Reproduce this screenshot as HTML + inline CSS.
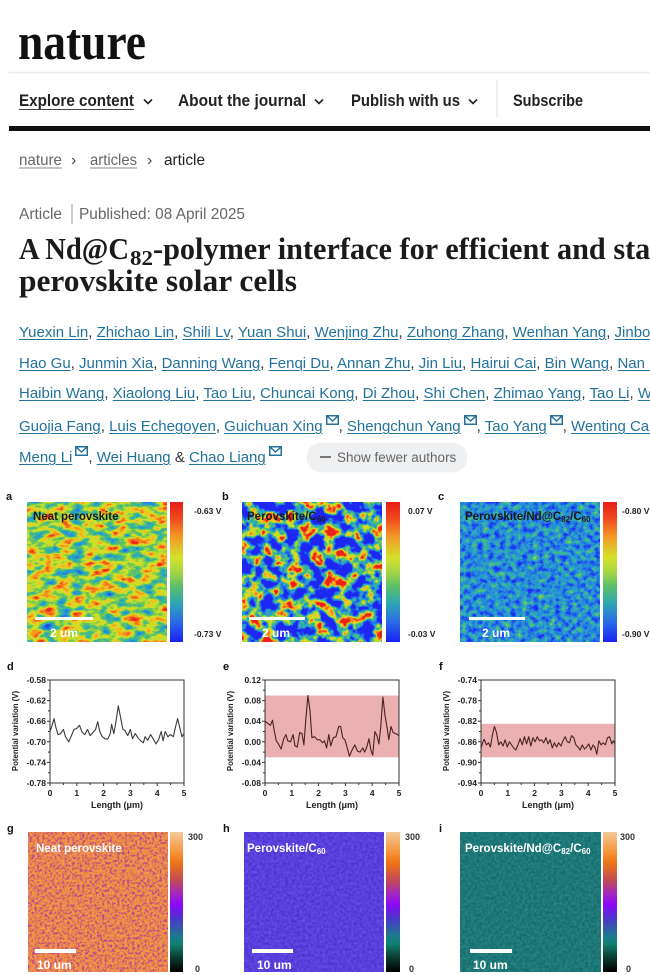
<!DOCTYPE html>
<html><head><meta charset="utf-8">
<style>
html,body{margin:0;padding:0;background:#fff;}
body{width:650px;height:975px;overflow:hidden;position:relative;font-family:"Liberation Sans",Arial,sans-serif;}
.au{position:absolute;left:19px;right:0;overflow:hidden;font-size:15px;line-height:20px;height:22px;color:#333;white-space:nowrap;}
.au span{color:#23729a;text-decoration:underline;text-underline-offset:2px;text-decoration-thickness:1px;}
.env{vertical-align:6px;margin-left:3px;}
.btn{position:absolute;left:307px;top:443px;width:160px;height:29px;border-radius:15px;background:#eef0f2;box-shadow:0 0 1px #d8dadc;}
.btn .dash{position:absolute;left:13px;top:13px;width:11px;height:2px;background:#777;}
.btn .t{position:absolute;left:30px;top:6px;font-size:13.5px;line-height:17px;color:#666;white-space:nowrap;}
</style></head>
<body>
<svg width="650" height="975" viewBox="0 0 650 975" style="position:absolute;left:0;top:0" font-family="Liberation Sans, Arial, sans-serif">
<defs>
<linearGradient id="jet" x1="0" y1="0" x2="0" y2="1">
<stop offset="0" stop-color="#e81c18"/><stop offset="0.12" stop-color="#f04a1e"/><stop offset="0.25" stop-color="#f29a26"/><stop offset="0.4" stop-color="#d4e22c"/><stop offset="0.5" stop-color="#a6d644"/><stop offset="0.6" stop-color="#5cc066"/><stop offset="0.72" stop-color="#2ea8b0"/><stop offset="0.85" stop-color="#2a6ee6"/><stop offset="1" stop-color="#1a22f2"/>
</linearGradient>
<linearGradient id="pl" x1="0" y1="0" x2="0" y2="1">
<stop offset="0" stop-color="#f6c898"/><stop offset="0.15" stop-color="#f59236"/><stop offset="0.22" stop-color="#ee7416"/><stop offset="0.35" stop-color="#c0485a"/><stop offset="0.45" stop-color="#a024c8"/><stop offset="0.52" stop-color="#8a08f6"/><stop offset="0.62" stop-color="#4a38c8"/><stop offset="0.74" stop-color="#1e7890"/><stop offset="0.8" stop-color="#108070"/><stop offset="0.9" stop-color="#0c3a2e"/><stop offset="1" stop-color="#000"/>
</linearGradient>
<filter id="fa" filterUnits="userSpaceOnUse" x="27" y="502" width="140" height="140" color-interpolation-filters="sRGB">
<feTurbulence type="fractalNoise" baseFrequency="0.07 0.13" numOctaves="3" seed="2"/>
<feColorMatrix type="matrix" values="1.3 0 0 0 -0.07  1.3 0 0 0 -0.07  1.3 0 0 0 -0.07  0 0 0 0 1"/>
<feComponentTransfer>
<feFuncR type="table" tableValues="0.12 0.12 0.16 0.19 0.44 0.80 0.95 0.95 0.92"/>
<feFuncG type="table" tableValues="0.15 0.38 0.58 0.70 0.78 0.90 0.76 0.45 0.14"/>
<feFuncB type="table" tableValues="0.95 0.92 0.85 0.66 0.32 0.16 0.12 0.12 0.10"/>
</feComponentTransfer>
</filter>
<filter id="fb" filterUnits="userSpaceOnUse" x="242" y="502" width="140" height="140" color-interpolation-filters="sRGB">
<feTurbulence type="fractalNoise" baseFrequency="0.08" numOctaves="3" seed="7"/>
<feColorMatrix type="matrix" values="3.0 0 0 0 -1.18  3.0 0 0 0 -1.18  3.0 0 0 0 -1.18  0 0 0 0 1"/>
<feComponentTransfer>
<feFuncR type="table" tableValues="0.12 0.12 0.16 0.19 0.44 0.80 0.95 0.95 0.92"/>
<feFuncG type="table" tableValues="0.15 0.38 0.58 0.70 0.78 0.90 0.76 0.45 0.14"/>
<feFuncB type="table" tableValues="0.95 0.92 0.85 0.66 0.32 0.16 0.12 0.12 0.10"/>
</feComponentTransfer>
</filter>
<filter id="fc" filterUnits="userSpaceOnUse" x="460" y="502" width="140" height="140" color-interpolation-filters="sRGB">
<feTurbulence type="fractalNoise" baseFrequency="0.18" numOctaves="4" seed="11"/>
<feColorMatrix type="matrix" values="0.8 0 0 0 -0.16  0.8 0 0 0 -0.16  0.8 0 0 0 -0.16  0 0 0 0 1"/>
<feComponentTransfer>
<feFuncR type="table" tableValues="0.12 0.12 0.16 0.19 0.44 0.80 0.95 0.95 0.92"/>
<feFuncG type="table" tableValues="0.15 0.38 0.58 0.70 0.78 0.90 0.76 0.45 0.14"/>
<feFuncB type="table" tableValues="0.95 0.92 0.85 0.66 0.32 0.16 0.12 0.12 0.10"/>
</feComponentTransfer>
</filter>
<filter id="fg" filterUnits="userSpaceOnUse" x="28" y="832" width="140" height="140" color-interpolation-filters="sRGB">
<feTurbulence type="fractalNoise" baseFrequency="0.4" numOctaves="2" seed="4"/>
<feColorMatrix type="matrix" values="2.3 0 0 0 -0.47  2.3 0 0 0 -0.47  2.3 0 0 0 -0.47  0 0 0 0 1"/>
<feComponentTransfer>
<feFuncR type="table" tableValues="0.62 0.80 0.92 0.95"/>
<feFuncG type="table" tableValues="0.25 0.36 0.52 0.60"/>
<feFuncB type="table" tableValues="0.66 0.46 0.30 0.28"/>
</feComponentTransfer>
</filter>
<filter id="fh" filterUnits="userSpaceOnUse" x="244" y="832" width="140" height="140" color-interpolation-filters="sRGB">
<feTurbulence type="fractalNoise" baseFrequency="0.35" numOctaves="2" seed="5"/>
<feColorMatrix type="matrix" values="2 0 0 0 -0.5  2 0 0 0 -0.5  2 0 0 0 -0.5  0 0 0 0 1"/>
<feComponentTransfer>
<feFuncR type="table" tableValues="0.30 0.40"/>
<feFuncG type="table" tableValues="0.20 0.30"/>
<feFuncB type="table" tableValues="0.82 0.90"/>
</feComponentTransfer>
</filter>
<filter id="fi" filterUnits="userSpaceOnUse" x="460" y="832" width="141" height="140" color-interpolation-filters="sRGB">
<feTurbulence type="fractalNoise" baseFrequency="0.35" numOctaves="2" seed="9"/>
<feColorMatrix type="matrix" values="2 0 0 0 -0.5  2 0 0 0 -0.5  2 0 0 0 -0.5  0 0 0 0 1"/>
<feComponentTransfer>
<feFuncR type="table" tableValues="0.08 0.16"/>
<feFuncG type="table" tableValues="0.42 0.52"/>
<feFuncB type="table" tableValues="0.42 0.52"/>
</feComponentTransfer>
</filter>
</defs>

<!-- Header -->
<text x="18" y="59" font-family="Liberation Serif, serif" font-weight="bold" font-size="52" textLength="128" lengthAdjust="spacingAndGlyphs" fill="#111">nature</text>
<line x1="9" y1="72.5" x2="650" y2="72.5" stroke="#ececec" stroke-width="1.5"/>
<g font-size="17" font-weight="bold" fill="#222">
<text x="19" y="106" textLength="115" lengthAdjust="spacingAndGlyphs">Explore content</text>
<text x="178" y="106" textLength="128" lengthAdjust="spacingAndGlyphs">About the journal</text>
<text x="351" y="106" textLength="109" lengthAdjust="spacingAndGlyphs">Publish with us</text>
<text x="513" y="106" textLength="70" lengthAdjust="spacingAndGlyphs">Subscribe</text>
</g>
<line x1="19" y1="109.5" x2="134" y2="109.5" stroke="#444" stroke-width="1"/>
<g fill="none" stroke="#222" stroke-width="1.6">
<polyline points="144,99.5 148,103.5 152,99.5"/>
<polyline points="315,99.5 319,103.5 323,99.5"/>
<polyline points="469,99.5 473,103.5 477,99.5"/>
</g>
<line x1="497" y1="80" x2="497" y2="117" stroke="#e2e2e2" stroke-width="1.2"/>
<rect x="9" y="126" width="641" height="5" fill="#111"/>

<!-- Breadcrumb -->
<g font-size="16">
<text x="19" y="165" fill="#666" textLength="43" lengthAdjust="spacingAndGlyphs">nature</text>
<text x="71" y="165" fill="#444">›</text>
<text x="90" y="165" fill="#666" textLength="47" lengthAdjust="spacingAndGlyphs">articles</text>
<text x="147" y="165" fill="#444">›</text>
<text x="164" y="165" fill="#222" textLength="41" lengthAdjust="spacingAndGlyphs">article</text>
</g>
<line x1="19" y1="168" x2="62" y2="168" stroke="#888" stroke-width="1"/>
<line x1="90" y1="168" x2="137" y2="168" stroke="#888" stroke-width="1"/>

<!-- Article meta -->
<g font-size="15.5" fill="#666">
<text x="19" y="219" textLength="43" lengthAdjust="spacingAndGlyphs">Article</text>
<text x="79" y="219" textLength="166" lengthAdjust="spacingAndGlyphs">Published: 08 April 2025</text>
</g>
<line x1="72" y1="204" x2="72" y2="224" stroke="#999" stroke-width="1"/>

<!-- Title -->
<g font-family="Liberation Serif, serif" font-weight="bold" fill="#1b1b1b">
<text x="19" y="259" font-size="31" textLength="110" lengthAdjust="spacingAndGlyphs">A Nd@C</text>
<text x="130" y="265" font-size="21" textLength="23" lengthAdjust="spacingAndGlyphs">82</text>
<text x="153" y="259" font-size="31" textLength="536" lengthAdjust="spacingAndGlyphs">-polymer interface for efficient and stable</text>
<text x="19" y="291" font-size="31" textLength="278" lengthAdjust="spacingAndGlyphs">perovskite solar cells</text>
</g>

<!-- Figure row 1 -->
<g font-weight="bold" font-size="11" fill="#111">
<text x="6" y="500">a</text><text x="222" y="500">b</text><text x="438" y="500">c</text>
<text x="7" y="670">d</text><text x="223" y="670">e</text><text x="439" y="670">f</text>
<text x="7" y="832">g</text><text x="223" y="832">h</text><text x="439" y="832">i</text>
</g>
<rect x="27" y="502" width="140" height="140" fill="#b0d040" filter="url(#fa)"/>
<rect x="242" y="502" width="140" height="140" fill="#3060e0" filter="url(#fb)"/>
<rect x="460" y="502" width="140" height="140" fill="#3a90c8" filter="url(#fc)"/>
<rect x="170" y="502" width="13" height="140" fill="url(#jet)"/>
<rect x="386" y="502" width="14" height="140" fill="url(#jet)"/>
<rect x="603" y="502" width="14" height="140" fill="url(#jet)"/>
<g font-weight="bold" font-size="8.5" fill="#222">
<text x="194" y="514">-0.63 V</text><text x="194" y="637">-0.73 V</text>
<text x="408" y="514">0.07 V</text><text x="408" y="637">-0.03 V</text>
<text x="622" y="514">-0.80 V</text><text x="622" y="637">-0.90 V</text>
</g>
<g font-weight="bold" font-size="11.5" fill="#1a1a1a">
<text x="33" y="520">Neat<tspan dx="3">perovskite</tspan></text>
<text x="247" y="520">Perovskite/C<tspan font-size="8" dy="2">60</tspan></text>
<text x="465" y="520">Perovskite/Nd@C<tspan font-size="8" dy="2">82</tspan><tspan dy="-2">/C</tspan><tspan font-size="8" dy="2">60</tspan></text>
</g>
<g fill="#fff">
<rect x="35" y="617" width="58" height="3"/>
<rect x="249" y="617" width="56" height="3"/>
<rect x="469" y="617" width="56" height="3"/>
</g>
<g font-weight="bold" font-size="12" fill="#fff">
<text x="50" y="637">2 um</text><text x="262" y="637">2 um</text><text x="482" y="637">2 um</text>
</g>

<!-- Row 2 plots -->
<g font-weight="bold" font-size="8.5" fill="#222">
<g text-anchor="end">
<text x="46" y="683">-0.58</text><text x="46" y="703.6">-0.62</text><text x="46" y="724.2">-0.66</text><text x="46" y="744.8">-0.70</text><text x="46" y="765.4">-0.74</text><text x="46" y="786">-0.78</text>
<text x="261" y="683">0.12</text><text x="261" y="703.6">0.08</text><text x="261" y="724.2">0.04</text><text x="261" y="744.8">0.00</text><text x="261" y="765.4">-0.04</text><text x="261" y="786">-0.08</text>
<text x="477" y="683">-0.74</text><text x="477" y="703.6">-0.78</text><text x="477" y="724.2">-0.82</text><text x="477" y="744.8">-0.86</text><text x="477" y="765.4">-0.90</text><text x="477" y="786">-0.94</text>
</g>
<g text-anchor="middle">
<text x="50" y="796">0</text><text x="76.8" y="796">1</text><text x="103.6" y="796">2</text><text x="130.4" y="796">3</text><text x="157.2" y="796">4</text><text x="184" y="796">5</text>
<text x="265" y="796">0</text><text x="291.8" y="796">1</text><text x="318.6" y="796">2</text><text x="345.4" y="796">3</text><text x="372.2" y="796">4</text><text x="399" y="796">5</text>
<text x="481" y="796">0</text><text x="507.8" y="796">1</text><text x="534.6" y="796">2</text><text x="561.4" y="796">3</text><text x="588.2" y="796">4</text><text x="615" y="796">5</text>
<text x="117" y="808" font-size="9">Length (μm)</text>
<text x="332" y="808" font-size="9">Length (μm)</text>
<text x="548" y="808" font-size="9">Length (μm)</text>
<text transform="translate(18,731) rotate(-90)" font-size="7.8">Potential variation (V)</text>
<text transform="translate(233,731) rotate(-90)" font-size="7.8">Potential variation (V)</text>
<text transform="translate(449,731) rotate(-90)" font-size="7.8">Potential variation (V)</text>
</g>
</g>
<rect x="265" y="695.5" width="134" height="61.8" fill="#eab0b2"/>
<rect x="481" y="723.8" width="134" height="33.5" fill="#eab0b2"/>
<g fill="none" stroke="#333" stroke-width="1">
<g transform="translate(50,680)"><path d="M0 0H134V103H0Z M0 0h-3M0 20.6h-3M0 41.2h-3M0 61.8h-3M0 82.4h-3M0 103h-3 M0 10.3h-2M0 30.9h-2M0 51.5h-2M0 72.1h-2M0 92.7h-2 M0 103v3M26.8 103v3M53.6 103v3M80.4 103v3M107.2 103v3M134 103v3 M13.4 103v2M40.2 103v2M67 103v2M93.8 103v2M120.6 103v2"/></g>
<g transform="translate(265,680)"><path d="M0 0H134V103H0Z M0 0h-3M0 20.6h-3M0 41.2h-3M0 61.8h-3M0 82.4h-3M0 103h-3 M0 10.3h-2M0 30.9h-2M0 51.5h-2M0 72.1h-2M0 92.7h-2 M0 103v3M26.8 103v3M53.6 103v3M80.4 103v3M107.2 103v3M134 103v3 M13.4 103v2M40.2 103v2M67 103v2M93.8 103v2M120.6 103v2"/></g>
<g transform="translate(481,680)"><path d="M0 0H134V103H0Z M0 0h-3M0 20.6h-3M0 41.2h-3M0 61.8h-3M0 82.4h-3M0 103h-3 M0 10.3h-2M0 30.9h-2M0 51.5h-2M0 72.1h-2M0 92.7h-2 M0 103v3M26.8 103v3M53.6 103v3M80.4 103v3M107.2 103v3M134 103v3 M13.4 103v2M40.2 103v2M67 103v2M93.8 103v2M120.6 103v2"/></g>
</g>
<polyline fill="none" stroke="#3a3a3a" stroke-width="1.1" stroke-linejoin="round" points="50,731.5 52.1,725.3 54,718.6 55.9,727.4 58,734.6 60.7,733.6 63.4,729.4 65.5,736.7 68.8,741.8 71.4,735.6 74.1,729.4 76.8,728.4 79.5,725.3 82.2,732.5 84.8,734.6 87.5,729.4 90.2,735.6 92.9,732.5 95.6,729.4 97.7,721.7 99.8,731.5 102.3,736.7 104.9,738.7 107.6,739.2 110.3,733.6 111.6,724.3 113.8,733.6 115.7,723.3 118.3,705.8 120.5,717.1 122.9,729.4 125,730.5 127.7,735.6 130.4,729.4 132.5,738.7 135.2,733.6 137.9,737.7 140.6,740.8 143.3,742.8 145.1,736.7 147.8,740.3 150.5,734.6 153.2,738.7 155.9,743.9 158.5,739.8 161.2,731.5 163.1,740.8 165.2,731.5 167.9,736.7 170.6,734.6 173.3,736.7 175.4,727.4 177.6,718.6 179.7,727.4 181.9,736.7 184,733.6"/>
<polyline fill="none" stroke="#4a2222" stroke-width="1.1" stroke-linejoin="round" points="265,721.2 267.7,723.3 270.4,725.3 272.5,720.2 274.4,731.5 276.3,740.8 278.4,743.9 281.1,749 283.8,738.7 285.9,734.6 287.8,740.8 290.5,741.8 293.1,734.6 295,745.9 297.2,747 299.8,732.5 302,733.6 303.9,744.9 305.7,721.2 307.9,695.5 310,710.9 311.9,737.7 314.6,736.7 317.3,739.8 319.9,739.8 322.6,742.8 324.5,740.8 326.6,748 328.8,734.6 330.7,745.9 333.3,737.7 336,736.7 338.7,726.4 340.6,726.4 342.7,737.7 344.9,739.8 346.7,745.9 349.4,756.2 352.1,750 354.8,744.9 357.5,751.1 360.1,752.1 362.8,748 364.7,752.1 366.8,747 369,738.7 370.9,750 372.7,755.2 374.9,731.5 377,735.6 378.9,743.9 380.8,726.4 382.9,697 385.1,716.1 386.9,726.4 388.8,739.8 391,726.4 393.1,732.5 395.8,733.6 399,735.6"/>
<polyline fill="none" stroke="#4a2222" stroke-width="1.1" stroke-linejoin="round" points="481,748 482.6,742.8 484.2,739.2 486.4,744.9 488.5,742.8 490.4,747 492.3,735.6 494.4,726.4 496.5,732.5 498.7,744.9 500.8,741.8 503,746 505.1,739.8 507.3,747 509.4,741.8 511.6,744.9 513.7,748 515.8,750 518,744.9 520.1,738.7 522.3,744.9 524.4,736.7 526.6,743.9 528.7,736.7 530.8,746 533,737.7 535.1,741.8 537.3,736.7 539.4,740.8 541.6,739.8 543.7,742.8 545.9,737.7 548,743.9 550.1,739.8 552.3,748 554.4,742.8 556.6,747 558.7,742.8 560.9,746 563,740.8 565.2,736.7 567.3,741.8 569.4,742.8 571.6,735.6 573.7,737.7 575.9,744.9 578,747 580.2,750 582.3,744.9 584.5,749 586.6,747 588.7,743.9 590.9,750 593,744.9 595.2,748 596.8,754.2 598.9,740.8 601.1,744.9 603.2,742.8 605.4,744.9 607.5,737.7 609.6,736.7 611.8,743.9 613.4,740.8 615,743.9"/>

<!-- Row 3 -->
<rect x="28" y="832" width="140" height="140" fill="#d27058" filter="url(#fg)"/>
<rect x="244" y="832" width="140" height="140" fill="#5a3edb" filter="url(#fh)"/>
<rect x="460" y="832" width="141" height="140" fill="#1e7878" filter="url(#fi)"/>
<rect x="170" y="832" width="13" height="140" fill="url(#pl)"/>
<rect x="386" y="832" width="14" height="140" fill="url(#pl)"/>
<rect x="603" y="832" width="14" height="140" fill="url(#pl)"/>
<g font-weight="bold" font-size="9" fill="#333">
<text x="188" y="840">300</text><text x="195" y="972">0</text>
<text x="405" y="840">300</text><text x="409" y="972">0</text>
<text x="620" y="840">300</text><text x="626" y="972">0</text>
</g>
<g font-weight="bold" font-size="11.5" fill="#fff">
<text x="36" y="852">Neat perovskite</text>
<text x="247" y="852">Perovskite/C<tspan font-size="8" dy="2">60</tspan></text>
<text x="465" y="852">Perovskite/Nd@C<tspan font-size="8" dy="2">82</tspan><tspan dy="-2">/C</tspan><tspan font-size="8" dy="2">60</tspan></text>
</g>
<g fill="#fff">
<rect x="35" y="949" width="41" height="4"/>
<rect x="252" y="949" width="41" height="4"/>
<rect x="470" y="949" width="42" height="4"/>
</g>
<g font-weight="bold" font-size="12" fill="#fff">
<text x="37" y="969">10 um</text><text x="257" y="969">10 um</text><text x="473" y="969">10 um</text>
</g>
</svg>

<div class="au" style="top:323px"><span>Yuexin Lin</span>, <span>Zhichao Lin</span>, <span>Shili Lv</span>, <span>Yuan Shui</span>, <span>Wenjing Zhu</span>, <span>Zuhong Zhang</span>, <span>Wenhan Yang</span>, <span>Jinbo Zhang</span>,</div>
<div class="au" style="top:354px"><span>Hao Gu</span>, <span>Junmin Xia</span>, <span>Danning Wang</span>, <span>Fenqi Du</span>, <span>Annan Zhu</span>, <span>Jin Liu</span>, <span>Hairui Cai</span>, <span>Bin Wang</span>, <span>Nan Li</span>,</div>
<div class="au" style="top:384px"><span>Haibin Wang</span>, <span>Xiaolong Liu</span>, <span>Tao Liu</span>, <span>Chuncai Kong</span>, <span>Di Zhou</span>, <span>Shi Chen</span>, <span>Zhimao Yang</span>, <span>Tao Li</span>, <span>Wei Li</span>,</div>
<div class="au" style="top:415px"><span>Guojia Fang</span>, <span>Luis Echegoyen</span>, <span>Guichuan Xing</span><svg class="env" width="13" height="10" viewBox="0 0 13 10"><rect x="0.75" y="0.75" width="11.5" height="8.5" fill="none" stroke="#23729a" stroke-width="1.5"/><polyline points="1,1 6.5,6 12,1" fill="none" stroke="#23729a" stroke-width="1.5"/></svg>, <span>Shengchun Yang</span><svg class="env" width="13" height="10" viewBox="0 0 13 10"><rect x="0.75" y="0.75" width="11.5" height="8.5" fill="none" stroke="#23729a" stroke-width="1.5"/><polyline points="1,1 6.5,6 12,1" fill="none" stroke="#23729a" stroke-width="1.5"/></svg>, <span>Tao Yang</span><svg class="env" width="13" height="10" viewBox="0 0 13 10"><rect x="0.75" y="0.75" width="11.5" height="8.5" fill="none" stroke="#23729a" stroke-width="1.5"/><polyline points="1,1 6.5,6 12,1" fill="none" stroke="#23729a" stroke-width="1.5"/></svg>, <span>Wenting Cai</span>,</div>
<div class="au" style="top:446px"><span>Meng Li</span><svg class="env" width="13" height="10" viewBox="0 0 13 10"><rect x="0.75" y="0.75" width="11.5" height="8.5" fill="none" stroke="#23729a" stroke-width="1.5"/><polyline points="1,1 6.5,6 12,1" fill="none" stroke="#23729a" stroke-width="1.5"/></svg>, <span>Wei Huang</span> &amp; <span>Chao Liang</span><svg class="env" width="13" height="10" viewBox="0 0 13 10"><rect x="0.75" y="0.75" width="11.5" height="8.5" fill="none" stroke="#23729a" stroke-width="1.5"/><polyline points="1,1 6.5,6 12,1" fill="none" stroke="#23729a" stroke-width="1.5"/></svg></div>
<div class="btn"><div class="dash"></div><div class="t">Show fewer authors</div></div>
</body></html>
